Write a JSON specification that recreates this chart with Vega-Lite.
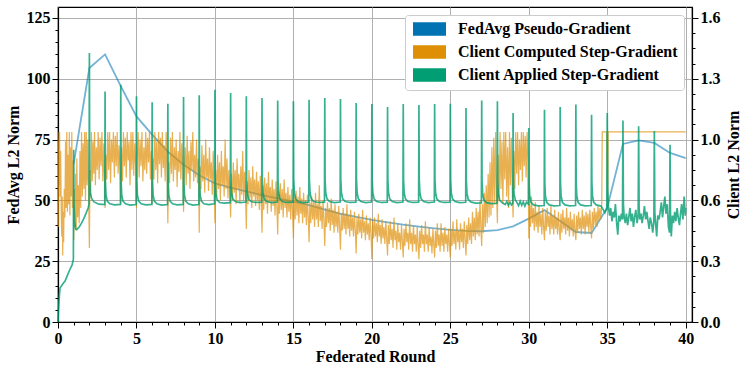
{
"$schema": "https://vega.github.io/schema/vega-lite/v6.json",
"width": 634, "height": 315,
"autosize": {"type": "none"},
"padding": {"left": 58, "top": 7, "right": 55, "bottom": 50},
"config": {
  "view": {"stroke": "black", "strokeWidth": 1.2},
  "font": "Liberation Serif",
  "axis": {"labelFont": "Liberation Serif", "labelFontWeight": "bold", "labelFontSize": 16, "labelColor": "black",
           "titleFont": "Liberation Serif", "titleFontWeight": "bold", "titleFontSize": 16, "titleColor": "black",
           "domainColor": "black", "domainWidth": 1.2, "tickColor": "black", "tickWidth": 1,
           "gridColor": "#b0b0b0", "gridWidth": 1, "labelOverlap": false, "labelFlush": false}
},
"datasets": {
"blue": [
{"x":1,"y":65},{"x":2,"y":104.4},{"x":3,"y":110},{"x":4,"y":97},{"x":5,"y":84.5},{"x":6,"y":77},{"x":7,"y":70},{"x":8,"y":64.7},{"x":9,"y":60.3},{"x":10,"y":57},
{"x":11,"y":55.2},{"x":12,"y":53.7},{"x":13,"y":52.2},{"x":14,"y":50.8},{"x":15,"y":49.5},{"x":16,"y":48},{"x":17,"y":46.2},{"x":18,"y":44.5},{"x":19,"y":43.2},{"x":20,"y":42},
{"x":21,"y":41},{"x":22,"y":40},{"x":23,"y":39.2},{"x":24,"y":38.5},{"x":25,"y":37.9},{"x":26,"y":37.5},{"x":27,"y":37.3},{"x":28,"y":37.8},{"x":29,"y":39.3},{"x":30,"y":42.5},
{"x":31,"y":46},{"x":32,"y":41.5},{"x":33,"y":37},{"x":34,"y":36.6},{"x":35,"y":47},{"x":36,"y":73.2},{"x":37,"y":74.7},{"x":38,"y":73.6},{"x":39,"y":69.5},{"x":40,"y":67.4}
],
"orange": [
{"x":0,"y":1.0},{"x":0.02,"y":0.5},{"x":0.04,"y":0.95},{"x":0.07,"y":0.72},{"x":0.1,"y":1.0},{"x":0.13,"y":0.66},{"x":0.17,"y":0.9},{"x":0.21,"y":0.55},{"x":0.24,"y":0.45},{"x":0.27,"y":0.66},{"x":0.3,"y":0.35},{"x":0.33,"y":0.58},{"x":0.36,"y":0.42},{"x":0.4,"y":0.7},{"x":0.44,"y":0.55},{"x":0.48,"y":0.95},{"x":0.52,"y":0.6},{"x":0.56,"y":1.0},{"x":0.6,"y":0.58},{"x":0.64,"y":0.88},{"x":0.68,"y":0.62},{"x":0.72,"y":1.0},{"x":0.76,"y":0.56},{"x":0.8,"y":0.92},{"x":0.84,"y":0.66},{"x":0.88,"y":1.0},{"x":0.92,"y":0.6},{"x":0.96,"y":0.85},
{"x":1.0,"y":0.43},{"x":1.04,"y":0.7},{"x":1.08,"y":0.5},{"x":1.12,"y":0.78},{"x":1.16,"y":0.48},{"x":1.2,"y":0.86},{"x":1.25,"y":0.55},{"x":1.3,"y":0.72},{"x":1.35,"y":0.52},{"x":1.4,"y":0.9},{"x":1.45,"y":0.6},{"x":1.5,"y":1.0},{"x":1.55,"y":0.66},{"x":1.6,"y":0.94},{"x":1.65,"y":0.7},{"x":1.7,"y":1.0},{"x":1.75,"y":0.64},{"x":1.8,"y":1.0},{"x":1.85,"y":0.72},{"x":1.9,"y":0.96},{"x":1.95,"y":0.68},
{"x":2.0,"y":0.39},{"x":2.04,"y":0.8},{"x":2.08,"y":0.66},{"x":2.13,"y":1.0},{"x":2.18,"y":0.74},{"x":2.23,"y":0.95},{"x":2.28,"y":0.78},{"x":2.33,"y":1.0},{"x":2.38,"y":0.72},{"x":2.44,"y":0.92},{"x":2.5,"y":0.8},{"x":2.56,"y":1.0},{"x":2.62,"y":0.75},{"x":2.68,"y":0.97},{"x":2.74,"y":0.82},{"x":2.8,"y":1.0},{"x":2.86,"y":0.74},{"x":2.92,"y":0.94},
{"x":3.0,"y":0.6},{"x":3.05,"y":0.88},{"x":3.11,"y":0.75},{"x":3.17,"y":1.0},{"x":3.23,"y":0.8},{"x":3.29,"y":1.0},{"x":3.35,"y":0.73},{"x":3.41,"y":0.96},{"x":3.47,"y":0.84},{"x":3.53,"y":1.0},{"x":3.59,"y":0.76},{"x":3.65,"y":0.98},{"x":3.71,"y":0.82},{"x":3.77,"y":1.0},{"x":3.83,"y":0.78},{"x":3.89,"y":0.93},{"x":3.95,"y":0.8},
{"x":4.0,"y":0.62},{"x":4.05,"y":0.92},{"x":4.11,"y":0.74},{"x":4.17,"y":1.0},{"x":4.23,"y":0.82},{"x":4.29,"y":0.97},{"x":4.35,"y":0.76},{"x":4.41,"y":1.0},{"x":4.47,"y":0.85},{"x":4.53,"y":0.95},{"x":4.59,"y":0.72},{"x":4.65,"y":1.0},{"x":4.71,"y":0.8},{"x":4.77,"y":1.0},{"x":4.83,"y":0.77},{"x":4.89,"y":0.94},{"x":4.95,"y":0.83},
{"x":5.0,"y":0.6},{"x":5.05,"y":0.85},{"x":5.11,"y":1.0},{"x":5.17,"y":0.76},{"x":5.23,"y":0.96},{"x":5.29,"y":0.82},{"x":5.35,"y":1.0},{"x":5.41,"y":0.74},{"x":5.47,"y":0.92},{"x":5.53,"y":0.8},{"x":5.59,"y":1.0},{"x":5.65,"y":0.78},{"x":5.71,"y":0.97},{"x":5.77,"y":0.84},{"x":5.83,"y":1.0},{"x":5.89,"y":0.75},{"x":5.95,"y":0.9},
{"x":6.0,"y":0.62},{"x":6.05,"y":0.86},{"x":6.11,"y":0.75},{"x":6.17,"y":1.0},{"x":6.23,"y":0.8},{"x":6.29,"y":0.95},{"x":6.35,"y":0.73},{"x":6.41,"y":1.0},{"x":6.47,"y":0.83},{"x":6.53,"y":0.97},{"x":6.59,"y":0.76},{"x":6.65,"y":1.0},{"x":6.71,"y":0.81},{"x":6.77,"y":0.93},{"x":6.83,"y":0.74},{"x":6.89,"y":1.0},{"x":6.95,"y":0.79},
{"x":7.0,"y":0.52},{"x":7.05,"y":0.84},{"x":7.11,"y":0.73},{"x":7.17,"y":0.97},{"x":7.23,"y":0.78},{"x":7.29,"y":1.0},{"x":7.35,"y":0.74},{"x":7.41,"y":0.92},{"x":7.47,"y":0.8},{"x":7.53,"y":0.96},{"x":7.59,"y":0.71},{"x":7.65,"y":0.9},{"x":7.71,"y":0.79},{"x":7.77,"y":1.0},{"x":7.83,"y":0.75},{"x":7.89,"y":0.94},{"x":7.95,"y":0.82},
{"x":8.0,"y":0.58},{"x":8.05,"y":0.8},{"x":8.11,"y":0.92},{"x":8.17,"y":0.72},{"x":8.23,"y":0.98},{"x":8.29,"y":0.78},{"x":8.35,"y":0.9},{"x":8.41,"y":0.7},{"x":8.47,"y":0.95},{"x":8.53,"y":0.8},{"x":8.59,"y":1.0},{"x":8.65,"y":0.74},{"x":8.71,"y":0.88},{"x":8.77,"y":0.76},{"x":8.83,"y":0.96},{"x":8.89,"y":0.73},{"x":8.95,"y":0.86},
{"x":9.0,"y":0.47},{"x":9.05,"y":0.82},{"x":9.11,"y":0.7},{"x":9.17,"y":0.93},{"x":9.23,"y":0.74},{"x":9.29,"y":0.88},{"x":9.35,"y":0.68},{"x":9.41,"y":0.96},{"x":9.47,"y":0.76},{"x":9.53,"y":0.86},{"x":9.59,"y":0.69},{"x":9.65,"y":0.92},{"x":9.71,"y":0.75},{"x":9.77,"y":0.84},{"x":9.83,"y":0.67},{"x":9.89,"y":0.9},{"x":9.95,"y":0.72},
{"x":10.0,"y":0.52},{"x":10.05,"y":0.8},{"x":10.11,"y":0.66},{"x":10.17,"y":0.88},{"x":10.23,"y":0.7},{"x":10.29,"y":0.84},{"x":10.35,"y":0.64},{"x":10.41,"y":0.9},{"x":10.47,"y":0.72},{"x":10.53,"y":0.82},{"x":10.59,"y":0.66},{"x":10.65,"y":0.96},{"x":10.71,"y":0.7},{"x":10.77,"y":0.86},{"x":10.83,"y":0.65},{"x":10.89,"y":0.8},{"x":10.95,"y":0.68},
{"x":11.0,"y":0.55},{"x":11.05,"y":0.78},{"x":11.11,"y":0.64},{"x":11.17,"y":0.84},{"x":11.23,"y":0.68},{"x":11.29,"y":0.8},{"x":11.35,"y":0.62},{"x":11.41,"y":0.86},{"x":11.47,"y":0.7},{"x":11.53,"y":0.78},{"x":11.59,"y":0.63},{"x":11.65,"y":0.82},{"x":11.71,"y":0.67},{"x":11.77,"y":0.9},{"x":11.83,"y":0.64},{"x":11.89,"y":0.79},{"x":11.95,"y":0.66},
{"x":12.0,"y":0.49},{"x":12.05,"y":0.74},{"x":12.11,"y":0.62},{"x":12.17,"y":0.8},{"x":12.23,"y":0.65},{"x":12.29,"y":0.76},{"x":12.35,"y":0.6},{"x":12.41,"y":0.82},{"x":12.47,"y":0.66},{"x":12.53,"y":0.75},{"x":12.59,"y":0.61},{"x":12.65,"y":0.79},{"x":12.71,"y":0.64},{"x":12.77,"y":0.74},{"x":12.83,"y":0.59},{"x":12.89,"y":0.77},{"x":12.95,"y":0.63},
{"x":13.0,"y":0.47},{"x":13.05,"y":0.72},{"x":13.11,"y":0.59},{"x":13.17,"y":0.76},{"x":13.23,"y":0.62},{"x":13.29,"y":0.73},{"x":13.35,"y":0.57},{"x":13.41,"y":0.79},{"x":13.47,"y":0.63},{"x":13.53,"y":0.71},{"x":13.59,"y":0.58},{"x":13.65,"y":0.75},{"x":13.71,"y":0.61},{"x":13.77,"y":0.7},{"x":13.83,"y":0.56},{"x":13.89,"y":0.74},{"x":13.95,"y":0.6},
{"x":14.0,"y":0.46},{"x":14.05,"y":0.69},{"x":14.11,"y":0.57},{"x":14.17,"y":0.73},{"x":14.23,"y":0.59},{"x":14.29,"y":0.7},{"x":14.35,"y":0.55},{"x":14.41,"y":0.75},{"x":14.47,"y":0.6},{"x":14.53,"y":0.68},{"x":14.59,"y":0.55},{"x":14.65,"y":0.71},{"x":14.71,"y":0.58},{"x":14.77,"y":0.67},{"x":14.83,"y":0.54},{"x":14.89,"y":0.7},{"x":14.95,"y":0.57},
{"x":15.0,"y":0.44},{"x":15.05,"y":0.66},{"x":15.11,"y":0.54},{"x":15.17,"y":0.69},{"x":15.23,"y":0.56},{"x":15.29,"y":0.66},{"x":15.35,"y":0.52},{"x":15.41,"y":0.71},{"x":15.47,"y":0.57},{"x":15.53,"y":0.65},{"x":15.59,"y":0.52},{"x":15.65,"y":0.68},{"x":15.71,"y":0.55},{"x":15.77,"y":0.64},{"x":15.83,"y":0.51},{"x":15.89,"y":0.67},{"x":15.95,"y":0.54},
{"x":16.0,"y":0.42},{"x":16.05,"y":0.63},{"x":16.11,"y":0.52},{"x":16.17,"y":0.66},{"x":16.23,"y":0.54},{"x":16.29,"y":0.63},{"x":16.35,"y":0.5},{"x":16.41,"y":0.68},{"x":16.47,"y":0.54},{"x":16.53,"y":0.62},{"x":16.59,"y":0.5},{"x":16.65,"y":0.72},{"x":16.71,"y":0.53},{"x":16.77,"y":0.61},{"x":16.83,"y":0.49},{"x":16.89,"y":0.64},{"x":16.95,"y":0.52},
{"x":17.0,"y":0.4},{"x":17.05,"y":0.6},{"x":17.11,"y":0.5},{"x":17.17,"y":0.63},{"x":17.23,"y":0.52},{"x":17.29,"y":0.6},{"x":17.35,"y":0.48},{"x":17.41,"y":0.65},{"x":17.47,"y":0.51},{"x":17.53,"y":0.59},{"x":17.59,"y":0.47},{"x":17.65,"y":0.62},{"x":17.71,"y":0.5},{"x":17.77,"y":0.58},{"x":17.83,"y":0.47},{"x":17.89,"y":0.61},{"x":17.95,"y":0.49},
{"x":18.0,"y":0.38},{"x":18.05,"y":0.57},{"x":18.11,"y":0.48},{"x":18.17,"y":0.6},{"x":18.23,"y":0.49},{"x":18.29,"y":0.57},{"x":18.35,"y":0.46},{"x":18.41,"y":0.62},{"x":18.47,"y":0.49},{"x":18.53,"y":0.56},{"x":18.59,"y":0.45},{"x":18.65,"y":0.59},{"x":18.71,"y":0.48},{"x":18.77,"y":0.55},{"x":18.83,"y":0.45},{"x":18.89,"y":0.58},{"x":18.95,"y":0.47},
{"x":19.0,"y":0.36},{"x":19.05,"y":0.55},{"x":19.11,"y":0.46},{"x":19.17,"y":0.57},{"x":19.23,"y":0.47},{"x":19.29,"y":0.54},{"x":19.35,"y":0.44},{"x":19.41,"y":0.59},{"x":19.47,"y":0.47},{"x":19.53,"y":0.53},{"x":19.59,"y":0.43},{"x":19.65,"y":0.56},{"x":19.71,"y":0.46},{"x":19.77,"y":0.52},{"x":19.83,"y":0.43},{"x":19.89,"y":0.55},{"x":19.95,"y":0.45},
{"x":20.0,"y":0.33},{"x":20.05,"y":0.53},{"x":20.11,"y":0.44},{"x":20.17,"y":0.55},{"x":20.23,"y":0.45},{"x":20.29,"y":0.52},{"x":20.35,"y":0.42},{"x":20.41,"y":0.57},{"x":20.47,"y":0.45},{"x":20.53,"y":0.51},{"x":20.59,"y":0.41},{"x":20.65,"y":0.54},{"x":20.71,"y":0.44},{"x":20.77,"y":0.5},{"x":20.83,"y":0.41},{"x":20.89,"y":0.53},{"x":20.95,"y":0.43},
{"x":21.0,"y":0.35},{"x":21.05,"y":0.51},{"x":21.11,"y":0.41},{"x":21.17,"y":0.53},{"x":21.23,"y":0.43},{"x":21.29,"y":0.49},{"x":21.35,"y":0.39},{"x":21.41,"y":0.55},{"x":21.47,"y":0.43},{"x":21.53,"y":0.48},{"x":21.59,"y":0.38},{"x":21.65,"y":0.52},{"x":21.71,"y":0.42},{"x":21.77,"y":0.47},{"x":21.83,"y":0.38},{"x":21.89,"y":0.51},{"x":21.95,"y":0.41},
{"x":22.0,"y":0.34},{"x":22.05,"y":0.49},{"x":22.11,"y":0.4},{"x":22.17,"y":0.52},{"x":22.23,"y":0.42},{"x":22.29,"y":0.47},{"x":22.35,"y":0.38},{"x":22.41,"y":0.54},{"x":22.47,"y":0.41},{"x":22.53,"y":0.47},{"x":22.59,"y":0.37},{"x":22.65,"y":0.51},{"x":22.71,"y":0.41},{"x":22.77,"y":0.46},{"x":22.83,"y":0.37},{"x":22.89,"y":0.5},{"x":22.95,"y":0.4},
{"x":23.0,"y":0.33},{"x":23.05,"y":0.48},{"x":23.11,"y":0.39},{"x":23.17,"y":0.51},{"x":23.23,"y":0.41},{"x":23.29,"y":0.46},{"x":23.35,"y":0.37},{"x":23.41,"y":0.53},{"x":23.47,"y":0.41},{"x":23.53,"y":0.46},{"x":23.59,"y":0.37},{"x":23.65,"y":0.5},{"x":23.71,"y":0.4},{"x":23.77,"y":0.45},{"x":23.83,"y":0.36},{"x":23.89,"y":0.49},{"x":23.95,"y":0.4},
{"x":24.0,"y":0.34},{"x":24.05,"y":0.48},{"x":24.11,"y":0.39},{"x":24.17,"y":0.52},{"x":24.23,"y":0.4},{"x":24.29,"y":0.46},{"x":24.35,"y":0.37},{"x":24.41,"y":0.52},{"x":24.47,"y":0.4},{"x":24.53,"y":0.47},{"x":24.59,"y":0.37},{"x":24.65,"y":0.5},{"x":24.71,"y":0.41},{"x":24.77,"y":0.46},{"x":24.83,"y":0.37},{"x":24.89,"y":0.49},{"x":24.95,"y":0.4},
{"x":25.0,"y":0.34},{"x":25.05,"y":0.49},{"x":25.11,"y":0.4},{"x":25.17,"y":0.53},{"x":25.23,"y":0.41},{"x":25.29,"y":0.48},{"x":25.35,"y":0.38},{"x":25.41,"y":0.54},{"x":25.47,"y":0.42},{"x":25.53,"y":0.48},{"x":25.59,"y":0.38},{"x":25.65,"y":0.52},{"x":25.71,"y":0.42},{"x":25.77,"y":0.49},{"x":25.83,"y":0.39},{"x":25.89,"y":0.53},{"x":25.95,"y":0.42},
{"x":26.0,"y":0.35},{"x":26.05,"y":0.51},{"x":26.11,"y":0.41},{"x":26.17,"y":0.55},{"x":26.23,"y":0.43},{"x":26.29,"y":0.52},{"x":26.35,"y":0.41},{"x":26.41,"y":0.58},{"x":26.47,"y":0.45},{"x":26.53,"y":0.55},{"x":26.59,"y":0.43},{"x":26.65,"y":0.6},{"x":26.71,"y":0.46},{"x":26.77,"y":0.58},{"x":26.83,"y":0.45},{"x":26.89,"y":0.64},{"x":26.95,"y":0.48},
{"x":27.0,"y":0.4},{"x":27.05,"y":0.62},{"x":27.11,"y":0.47},{"x":27.17,"y":0.68},{"x":27.23,"y":0.5},{"x":27.29,"y":0.72},{"x":27.35,"y":0.52},{"x":27.41,"y":0.78},{"x":27.47,"y":0.55},{"x":27.53,"y":0.84},{"x":27.59,"y":0.56},{"x":27.65,"y":0.92},{"x":27.71,"y":0.6},{"x":27.77,"y":0.97},{"x":27.83,"y":0.62},{"x":27.89,"y":1.0},{"x":27.95,"y":0.66},
{"x":28.0,"y":0.52},{"x":28.05,"y":0.88},{"x":28.11,"y":0.64},{"x":28.17,"y":1.0},{"x":28.23,"y":0.7},{"x":28.29,"y":0.95},{"x":28.35,"y":0.62},{"x":28.41,"y":1.0},{"x":28.47,"y":0.75},{"x":28.53,"y":1.0},{"x":28.59,"y":0.66},{"x":28.65,"y":0.92},{"x":28.71,"y":0.6},{"x":28.77,"y":1.0},{"x":28.83,"y":0.72},{"x":28.89,"y":0.97},{"x":28.95,"y":0.68},
{"x":29.0,"y":0.55},{"x":29.05,"y":0.9},{"x":29.11,"y":0.7},{"x":29.17,"y":1.0},{"x":29.23,"y":0.78},{"x":29.29,"y":1.0},{"x":29.35,"y":0.72},{"x":29.41,"y":0.96},{"x":29.47,"y":0.8},{"x":29.53,"y":1.0},{"x":29.59,"y":0.74},{"x":29.65,"y":1.0},{"x":29.71,"y":0.82},{"x":29.77,"y":0.98},{"x":29.83,"y":0.76},{"x":29.89,"y":1.0},{"x":29.95,"y":0.85},
{"x":30.0,"y":0.44},{"x":30.05,"y":0.62},{"x":30.11,"y":0.5},{"x":30.17,"y":0.66},{"x":30.23,"y":0.52},{"x":30.29,"y":0.6},{"x":30.35,"y":0.48},{"x":30.41,"y":0.63},{"x":30.47,"y":0.5},{"x":30.53,"y":0.58},{"x":30.59,"y":0.47},{"x":30.65,"y":0.61},{"x":30.71,"y":0.5},{"x":30.77,"y":0.57},{"x":30.83,"y":0.46},{"x":30.89,"y":0.6},{"x":30.95,"y":0.49},
{"x":31.0,"y":0.43},{"x":31.05,"y":0.58},{"x":31.11,"y":0.48},{"x":31.17,"y":0.6},{"x":31.23,"y":0.5},{"x":31.29,"y":0.56},{"x":31.35,"y":0.46},{"x":31.41,"y":0.61},{"x":31.47,"y":0.49},{"x":31.53,"y":0.56},{"x":31.59,"y":0.46},{"x":31.65,"y":0.59},{"x":31.71,"y":0.49},{"x":31.77,"y":0.55},{"x":31.83,"y":0.46},{"x":31.89,"y":0.58},{"x":31.95,"y":0.48},
{"x":32.0,"y":0.43},{"x":32.05,"y":0.57},{"x":32.11,"y":0.47},{"x":32.17,"y":0.59},{"x":32.23,"y":0.49},{"x":32.29,"y":0.55},{"x":32.35,"y":0.46},{"x":32.41,"y":0.6},{"x":32.47,"y":0.48},{"x":32.53,"y":0.55},{"x":32.59,"y":0.45},{"x":32.65,"y":0.58},{"x":32.71,"y":0.48},{"x":32.77,"y":0.54},{"x":32.83,"y":0.45},{"x":32.89,"y":0.57},{"x":32.95,"y":0.47},
{"x":33.0,"y":0.43},{"x":33.05,"y":0.56},{"x":33.11,"y":0.47},{"x":33.17,"y":0.58},{"x":33.23,"y":0.49},{"x":33.29,"y":0.55},{"x":33.35,"y":0.46},{"x":33.41,"y":0.59},{"x":33.47,"y":0.49},{"x":33.53,"y":0.56},{"x":33.59,"y":0.46},{"x":33.65,"y":0.58},{"x":33.71,"y":0.5},{"x":33.77,"y":0.57},{"x":33.83,"y":0.47},{"x":33.89,"y":0.59},{"x":33.95,"y":0.5},
{"x":34.0,"y":0.44},{"x":34.05,"y":0.58},{"x":34.11,"y":0.49},{"x":34.17,"y":0.6},{"x":34.23,"y":0.51},{"x":34.29,"y":0.58},{"x":34.35,"y":0.5},{"x":34.41,"y":0.61},{"x":34.47,"y":0.53},{"x":34.53,"y":0.6},{"x":34.59,"y":0.54},{"x":34.65,"y":0.62},{"x":34.68,"y":1.0},{"x":34.8,"y":1.0},{"x":34.95,"y":1.0},{"x":35.03,"y":0.59},{"x":35.06,"y":1.0},{"x":40.0,"y":1.0}
],
"green": [
{"x":0,"y":0},{"x":0.03,"y":0.06},{"x":0.08,"y":0.13},{"x":0.13,"y":0.18},{"x":0.2,"y":0.187},{"x":0.3,"y":0.2},{"x":0.45,"y":0.215},{"x":0.6,"y":0.245},{"x":0.75,"y":0.275},{"x":0.9,"y":0.3},{"x":0.98,"y":0.33},
{"x":1.0,"y":0.906},{"x":1.02,"y":0.62},{"x":1.06,"y":0.53},{"x":1.12,"y":0.49},{"x":1.2,"y":0.487},{"x":1.35,"y":0.5},{"x":1.5,"y":0.52},{"x":1.65,"y":0.545},{"x":1.8,"y":0.575},{"x":1.92,"y":0.6},{"x":1.98,"y":0.62},
{"x":2.0,"y":1.416},{"x":2.02,"y":0.76},{"x":2.06,"y":0.68},{"x":2.14,"y":0.65},{"x":2.3,"y":0.632},{"x":2.6,"y":0.62},{"x":2.98,"y":0.618},
{"x":3,"y":1.213},{"x":3.02,"y":0.738},{"x":3.06,"y":0.668},{"x":3.14,"y":0.636},{"x":3.3,"y":0.622},{"x":3.6,"y":0.616},{"x":3.98,"y":0.619},
{"x":4,"y":1.249},{"x":4.02,"y":0.738},{"x":4.06,"y":0.668},{"x":4.14,"y":0.636},{"x":4.3,"y":0.622},{"x":4.6,"y":0.615},{"x":4.98,"y":0.618},
{"x":5,"y":1.188},{"x":5.02,"y":0.738},{"x":5.06,"y":0.668},{"x":5.14,"y":0.636},{"x":5.3,"y":0.622},{"x":5.6,"y":0.616},{"x":5.98,"y":0.619},
{"x":6,"y":1.156},{"x":6.02,"y":0.738},{"x":6.06,"y":0.668},{"x":6.14,"y":0.636},{"x":6.3,"y":0.622},{"x":6.6,"y":0.615},{"x":6.98,"y":0.618},
{"x":7,"y":1.149},{"x":7.02,"y":0.738},{"x":7.06,"y":0.668},{"x":7.14,"y":0.636},{"x":7.3,"y":0.622},{"x":7.6,"y":0.616},{"x":7.98,"y":0.619},
{"x":8,"y":1.184},{"x":8.02,"y":0.738},{"x":8.06,"y":0.668},{"x":8.14,"y":0.636},{"x":8.3,"y":0.622},{"x":8.6,"y":0.615},{"x":8.98,"y":0.618},
{"x":9,"y":1.193},{"x":9.02,"y":0.738},{"x":9.06,"y":0.668},{"x":9.14,"y":0.636},{"x":9.3,"y":0.622},{"x":9.6,"y":0.618},{"x":9.98,"y":0.622},
{"x":10,"y":1.222},{"x":10.02,"y":0.745},{"x":10.06,"y":0.675},{"x":10.14,"y":0.643},{"x":10.3,"y":0.629},{"x":10.6,"y":0.626},{"x":10.98,"y":0.628},
{"x":11,"y":1.205},{"x":11.02,"y":0.75},{"x":11.06,"y":0.68},{"x":11.14,"y":0.648},{"x":11.3,"y":0.634},{"x":11.6,"y":0.628},{"x":11.98,"y":0.631},
{"x":12,"y":1.188},{"x":12.02,"y":0.75},{"x":12.06,"y":0.68},{"x":12.14,"y":0.648},{"x":12.3,"y":0.634},{"x":12.6,"y":0.629},{"x":12.98,"y":0.631},
{"x":13,"y":1.179},{"x":13.02,"y":0.75},{"x":13.06,"y":0.68},{"x":13.14,"y":0.648},{"x":13.3,"y":0.634},{"x":13.6,"y":0.628},{"x":13.98,"y":0.631},
{"x":14,"y":1.166},{"x":14.02,"y":0.75},{"x":14.06,"y":0.68},{"x":14.14,"y":0.648},{"x":14.3,"y":0.634},{"x":14.6,"y":0.629},{"x":14.98,"y":0.631},
{"x":15,"y":1.161},{"x":15.02,"y":0.75},{"x":15.06,"y":0.68},{"x":15.14,"y":0.648},{"x":15.3,"y":0.634},{"x":15.6,"y":0.628},{"x":15.98,"y":0.631},
{"x":16,"y":1.17},{"x":16.02,"y":0.75},{"x":16.06,"y":0.68},{"x":16.14,"y":0.648},{"x":16.3,"y":0.634},{"x":16.6,"y":0.629},{"x":16.98,"y":0.631},
{"x":17,"y":1.179},{"x":17.02,"y":0.75},{"x":17.06,"y":0.68},{"x":17.14,"y":0.648},{"x":17.3,"y":0.634},{"x":17.6,"y":0.628},{"x":17.98,"y":0.631},
{"x":18,"y":1.174},{"x":18.02,"y":0.75},{"x":18.06,"y":0.68},{"x":18.14,"y":0.648},{"x":18.3,"y":0.634},{"x":18.6,"y":0.629},{"x":18.98,"y":0.631},
{"x":19,"y":1.152},{"x":19.02,"y":0.75},{"x":19.06,"y":0.68},{"x":19.14,"y":0.648},{"x":19.3,"y":0.634},{"x":19.6,"y":0.628},{"x":19.98,"y":0.631},
{"x":20,"y":1.147},{"x":20.02,"y":0.75},{"x":20.06,"y":0.68},{"x":20.14,"y":0.648},{"x":20.3,"y":0.634},{"x":20.6,"y":0.629},{"x":20.98,"y":0.631},
{"x":21,"y":1.132},{"x":21.02,"y":0.75},{"x":21.06,"y":0.68},{"x":21.14,"y":0.648},{"x":21.3,"y":0.634},{"x":21.6,"y":0.628},{"x":21.98,"y":0.631},
{"x":22,"y":1.147},{"x":22.02,"y":0.75},{"x":22.06,"y":0.68},{"x":22.14,"y":0.648},{"x":22.3,"y":0.634},{"x":22.6,"y":0.629},{"x":22.98,"y":0.631},
{"x":23,"y":1.142},{"x":23.02,"y":0.75},{"x":23.06,"y":0.68},{"x":23.14,"y":0.648},{"x":23.3,"y":0.634},{"x":23.6,"y":0.628},{"x":23.98,"y":0.631},
{"x":24,"y":1.147},{"x":24.02,"y":0.75},{"x":24.06,"y":0.68},{"x":24.14,"y":0.648},{"x":24.3,"y":0.634},{"x":24.6,"y":0.629},{"x":24.98,"y":0.631},
{"x":25,"y":1.148},{"x":25.02,"y":0.75},{"x":25.06,"y":0.68},{"x":25.14,"y":0.648},{"x":25.3,"y":0.634},{"x":25.6,"y":0.628},{"x":25.98,"y":0.63},
{"x":26,"y":1.126},{"x":26.02,"y":0.748},{"x":26.06,"y":0.678},{"x":26.14,"y":0.646},{"x":26.3,"y":0.632},{"x":26.6,"y":0.626},{"x":26.98,"y":0.627},
{"x":27,"y":1.165},{"x":27.02,"y":0.744},{"x":27.06,"y":0.674},{"x":27.14,"y":0.642},{"x":27.3,"y":0.628},{"x":27.6,"y":0.623},{"x":27.98,"y":0.625},
{"x":28,"y":1.161},{"x":28.02,"y":0.744},{"x":28.06,"y":0.674},{"x":28.14,"y":0.642},{"x":28.3,"y":0.628},{"x":28.5,"y":0.618},{"x":28.6,"y":0.634},{"x":28.7,"y":0.614},{"x":28.8,"y":0.63},{"x":28.9,"y":0.616},{"x":28.98,"y":0.624},
{"x":29,"y":1.10},{"x":29.02,"y":0.744},{"x":29.06,"y":0.674},{"x":29.14,"y":0.642},{"x":29.25,"y":0.628},{"x":29.35,"y":0.612},{"x":29.45,"y":0.636},{"x":29.55,"y":0.614},{"x":29.65,"y":0.632},{"x":29.75,"y":0.61},{"x":29.85,"y":0.63},{"x":29.98,"y":0.62},
{"x":30,"y":1.021},{"x":30.02,"y":0.732},{"x":30.06,"y":0.662},{"x":30.14,"y":0.63},{"x":30.3,"y":0.616},{"x":30.6,"y":0.611},{"x":30.98,"y":0.613},
{"x":31,"y":1.117},{"x":31.02,"y":0.732},{"x":31.06,"y":0.662},{"x":31.14,"y":0.63},{"x":31.3,"y":0.616},{"x":31.6,"y":0.611},{"x":31.98,"y":0.613},
{"x":32,"y":1.131},{"x":32.02,"y":0.732},{"x":32.06,"y":0.662},{"x":32.14,"y":0.63},{"x":32.3,"y":0.616},{"x":32.6,"y":0.611},{"x":32.98,"y":0.613},
{"x":33,"y":1.144},{"x":33.02,"y":0.732},{"x":33.06,"y":0.662},{"x":33.14,"y":0.63},{"x":33.3,"y":0.616},{"x":33.6,"y":0.611},{"x":33.98,"y":0.613},
{"x":34,"y":1.09},{"x":34.02,"y":0.732},{"x":34.06,"y":0.662},{"x":34.14,"y":0.63},{"x":34.3,"y":0.616},{"x":34.6,"y":0.61},{"x":34.75,"y":0.59},{"x":34.85,"y":0.575},{"x":34.97,"y":0.6},
{"x":35,"y":1.10},{"x":35.03,"y":0.7},{"x":35.08,"y":0.6},{"x":35.15,"y":0.56},{"x":35.22,"y":0.6},{"x":35.3,"y":0.53},{"x":35.37,"y":0.58},{"x":35.45,"y":0.55},{"x":35.52,"y":0.62},{"x":35.6,"y":0.52},{"x":35.67,"y":0.46},{"x":35.74,"y":0.56},{"x":35.82,"y":0.53},{"x":35.9,"y":0.57},{"x":35.97,"y":0.54},
{"x":36,"y":1.06},{"x":36.03,"y":0.62},{"x":36.08,"y":0.55},{"x":36.15,"y":0.52},{"x":36.22,"y":0.57},{"x":36.3,"y":0.51},{"x":36.37,"y":0.55},{"x":36.45,"y":0.6},{"x":36.52,"y":0.53},{"x":36.6,"y":0.57},{"x":36.67,"y":0.5},{"x":36.74,"y":0.55},{"x":36.82,"y":0.59},{"x":36.9,"y":0.52},{"x":36.97,"y":0.56},
{"x":37,"y":1.03},{"x":37.03,"y":0.6},{"x":37.08,"y":0.54},{"x":37.15,"y":0.57},{"x":37.22,"y":0.52},{"x":37.3,"y":0.56},{"x":37.37,"y":0.61},{"x":37.45,"y":0.54},{"x":37.52,"y":0.58},{"x":37.6,"y":0.53},{"x":37.67,"y":0.49},{"x":37.74,"y":0.55},{"x":37.82,"y":0.52},{"x":37.9,"y":0.47},{"x":37.97,"y":0.53},
{"x":38,"y":1.005},{"x":38.03,"y":0.58},{"x":38.08,"y":0.52},{"x":38.15,"y":0.45},{"x":38.22,"y":0.56},{"x":38.3,"y":0.54},{"x":38.37,"y":0.58},{"x":38.45,"y":0.63},{"x":38.52,"y":0.55},{"x":38.6,"y":0.61},{"x":38.67,"y":0.66},{"x":38.74,"y":0.57},{"x":38.82,"y":0.62},{"x":38.9,"y":0.5},{"x":38.97,"y":0.47},
{"x":39,"y":0.933},{"x":39.03,"y":0.55},{"x":39.08,"y":0.45},{"x":39.15,"y":0.56},{"x":39.22,"y":0.52},{"x":39.3,"y":0.58},{"x":39.37,"y":0.53},{"x":39.45,"y":0.6},{"x":39.52,"y":0.55},{"x":39.6,"y":0.51},{"x":39.67,"y":0.57},{"x":39.74,"y":0.62},{"x":39.82,"y":0.54},{"x":39.9,"y":0.66},{"x":39.97,"y":0.56},{"x":40,"y":0.6}
]
},
"encoding": {
  "x": {"field": "x", "type": "quantitative",
        "scale": {"domain": [0, 40.4], "nice": false, "zero": false},
        "axis": {"title": "Federated Round", "values": [0,1,2,3,4,5,6,7,8,9,10,11,12,13,14,15,16,17,18,19,20,21,22,23,24,25,26,27,28,29,30,31,32,33,34,35,36,37,38,39,40],
                 "format": "d", "labelExpr": "datum.value % 5 === 0 ? datum.label : ''",
                 "labelFont": "Liberation Serif", "labelFontWeight": "bold", "labelFontSize": 16,
                 "grid": true,
                 "gridOpacity": {"condition": {"test": "datum.value % 5 !== 0", "value": 0}, "value": 1},
                 "tickSize": {"condition": {"test": "datum.value % 5 !== 0", "value": 3}, "value": 6},
                 "labelPadding": 2, "titlePadding": 2}}
},
"layer": [
  {"data": {"name": "blue"},
   "mark": {"type": "line", "strokeWidth": 1.8, "strokeOpacity": 0.55},
   "encoding": {
     "y": {"field": "y", "type": "quantitative",
           "scale": {"domain": [0, 129.5], "nice": false},
           "axis": {"orient": "left", "title": "FedAvg L2 Norm",
                    "values": [0,5,10,15,20,25,30,35,40,45,50,55,60,65,70,75,80,85,90,95,100,105,110,115,120,125],
                    "format": "d", "labelExpr": "datum.value % 25 === 0 ? datum.label : ''",
                    "labelFont": "Liberation Serif", "labelFontWeight": "bold", "labelFontSize": 16,
                    "grid": true,
                    "gridOpacity": {"condition": {"test": "datum.value % 25 !== 0", "value": 0}, "value": 1},
                    "tickSize": {"condition": {"test": "datum.value % 25 !== 0", "value": 3}, "value": 6},
                    "labelPadding": 2, "titlePadding": 5}},
     "color": {"datum": "FedAvg Pseudo-Gradient", "type": "nominal",
               "scale": {"domain": ["FedAvg Pseudo-Gradient", "Client Computed Step-Gradient", "Client Applied Step-Gradient"],
                         "range": ["#0173b2", "#de8f05", "#029e73"]},
               "legend": {"title": null, "orient": "top-right", "offset": 8, "padding": 6,
                          "fillColor": "white", "strokeColor": "#cccccc", "cornerRadius": 3,
                          "labelFont": "Liberation Serif", "labelFontWeight": "bold", "labelFontSize": 16, "labelColor": "black",
                          "labelLimit": 400,
                          "symbolType": "M-1,-1H4.5M-1,-0.8H4.5M-1,-0.6H4.5M-1,-0.4H4.5M-1,-0.2H4.5M-1,0H4.5M-1,0.2H4.5M-1,0.4H4.5M-1,0.6H4.5M-1,0.8H4.5M-1,1H4.5",
                          "symbolSize": 144, "symbolStrokeWidth": 1.4,
                          "symbolOpacity": 1, "symbolDash": [], "symbolFillColor": "transparent",
                          "labelOffset": 31, "rowPadding": 5}}
   }},
  {"layer": [
     {"data": {"name": "orange"},
      "mark": {"type": "line", "strokeWidth": 1.2, "strokeOpacity": 0.7},
      "encoding": {"color": {"datum": "Client Computed Step-Gradient", "type": "nominal"}}},
     {"data": {"name": "green"},
      "mark": {"type": "line", "strokeWidth": 1.7, "strokeOpacity": 0.8},
      "encoding": {"color": {"datum": "Client Applied Step-Gradient", "type": "nominal"}}}
   ],
   "encoding": {
     "y": {"field": "y", "type": "quantitative",
           "scale": {"domain": [0, 1.6576], "nice": false},
           "axis": {"orient": "right", "title": "Client L2 Norm",
                    "values": [0,0.08,0.16,0.24,0.32,0.4,0.48,0.56,0.64,0.72,0.8,0.88,0.96,1.04,1.12,1.2,1.28,1.36,1.44,1.52,1.6],
                    "labelExpr": "indexof([0,0.32,0.64,0.96,1.28,1.6], datum.value) >= 0 ? format(datum.value, '.1f') : ''",
                    "labelFont": "Liberation Serif", "labelFontWeight": "bold", "labelFontSize": 16,
                    "grid": false,
                    "tickSize": {"condition": {"test": "indexof([0,0.32,0.64,0.96,1.28,1.6], datum.value) < 0", "value": 3}, "value": 6},
                    "labelPadding": 2, "titlePadding": 5, "titleAngle": 270, "titleBaseline": "top"}}
   }}
],
"resolve": {"scale": {"y": "independent"}}
}
